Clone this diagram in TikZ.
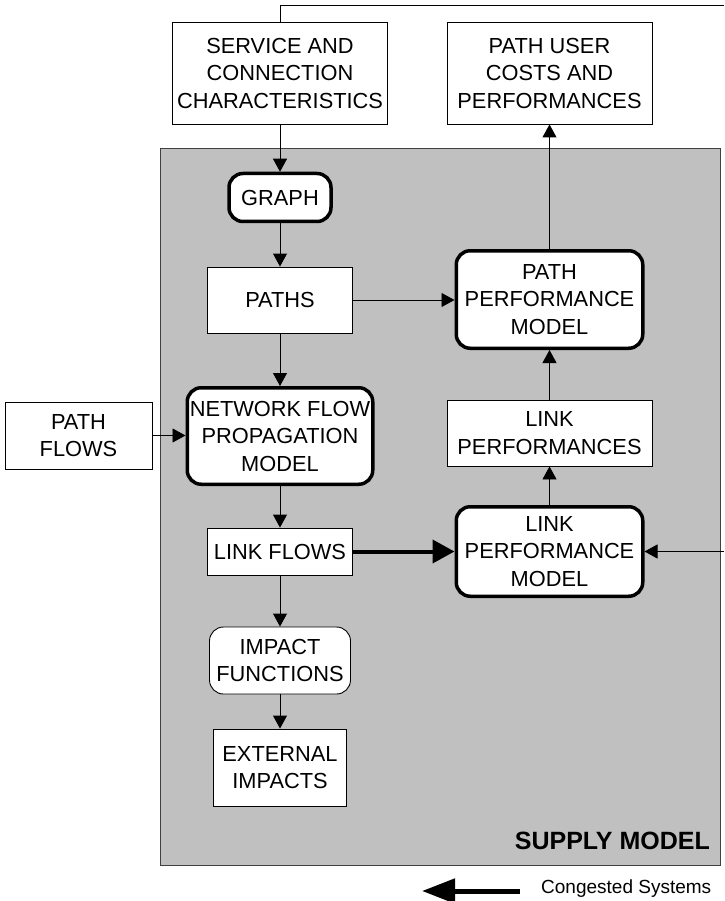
\documentclass[tikz,border=0pt]{standalone}
\usepackage{fontspec}
\setmainfont{Liberation Sans}
\usetikzlibrary{arrows.meta}
\definecolor{supplygray}{HTML}{C0C0C0}
\begin{document}
\begin{tikzpicture}[x=1pt,y=-1pt,
 box/.style={draw=black,fill=white,line width=0.9pt,align=center,inner sep=1pt,font=\fontsize{21.8}{27.5}\selectfont},
 model/.style={box,line width=3.5pt,rounded corners=14pt},
 soft/.style={box,rounded corners=14pt},
 conn/.style={draw=black,line width=0.9pt,-{Triangle[length=13pt,width=14pt]}},
 plainline/.style={draw=black,line width=0.9pt},
 bigconn/.style={draw=black,line width=4pt,-{Triangle[length=22pt,width=23pt]}},
]
\useasboundingbox (0,0) rectangle (724,901);
\node[draw=black!75, fill=supplygray, line width=0.9pt, minimum width=560pt, minimum height=717pt, inner sep=0pt, anchor=north west] (supply) at (160,148) {};
\node[anchor=base east, font=\bfseries\fontsize{25}{30}\selectfont, inner sep=0pt] (supplylabel) at (710,849) {SUPPLY MODEL};

\node[box, minimum width=215pt, minimum height=102pt] (service) at (280,73) {SERVICE AND\\CONNECTION\\CHARACTERISTICS};
\node[box, minimum width=205pt, minimum height=102pt] (pathuser) at (549.5,73) {PATH USER\\COSTS AND\\PERFORMANCES};
\node[model, minimum width=102pt, minimum height=48pt] (graph) at (280,197.5) {GRAPH};
\node[box, minimum width=145pt, minimum height=66pt] (paths) at (280,300) {PATHS};
\node[model, minimum width=185.5pt, minimum height=96.5pt] (network) at (280,436) {NETWORK FLOW\\PROPAGATION\\MODEL};
\node[box, minimum width=147pt, minimum height=67pt] (pathflows) at (78.5,435.5) {PATH\\FLOWS};
\node[box, minimum width=145pt, minimum height=47pt] (linkflows) at (280,551.5) {LINK FLOWS};
\node[soft, minimum width=141pt, minimum height=67pt] (impact) at (280,660.5) {IMPACT\\FUNCTIONS};
\node[box, minimum width=133pt, minimum height=77pt] (external) at (280,767.5) {EXTERNAL\\IMPACTS};
\node[model, minimum width=186.5pt, minimum height=97.5pt] (pathperf) at (549.5,299.5) {PATH\\PERFORMANCE\\MODEL};
\node[box, minimum width=205pt, minimum height=66pt] (linkperfs) at (549.5,433) {LINK\\PERFORMANCES};
\node[model, minimum width=186.5pt, minimum height=89.5pt] (lpm) at (549.5,551.5) {LINK\\PERFORMANCE\\MODEL};

\coordinate (topend) at (724,5);
\coordinate (rightin) at (724,551.5);

\draw[plainline] (service.north) |- (topend);
\draw[conn] (service.south) -- (graph.north);
\draw[conn] (graph.south) -- (paths.north);
\draw[conn] (paths.east) -- (paths.east -| pathperf.west);
\draw[conn] (paths.south) -- (network.north);
\draw[conn] (pathflows.east) -- (pathflows.east -| network.west);
\draw[conn] (network.south) -- (linkflows.north);
\draw[bigconn] (linkflows.east) -- (linkflows.east -| lpm.west);
\draw[conn] (rightin) -- (lpm.east);
\draw[conn] (lpm.north) -- (linkperfs.south);
\draw[conn] (linkperfs.north) -- (pathperf.south);
\draw[conn] (pathperf.north) -- (pathuser.south);
\draw[conn] (linkflows.south) -- (impact.north);
\draw[conn] (impact.south) -- (external.north);

\coordinate (legA) at (520,891);
\coordinate (legB) at (422,891);
\draw[line width=5pt,-{Triangle[length=33pt,width=24pt]}] (legA) -- (legB);
\node[anchor=base west, font=\fontsize{19}{23}\selectfont, inner sep=0pt] (legtext) at (541,893) {Congested Systems};
\end{tikzpicture}
\end{document}
